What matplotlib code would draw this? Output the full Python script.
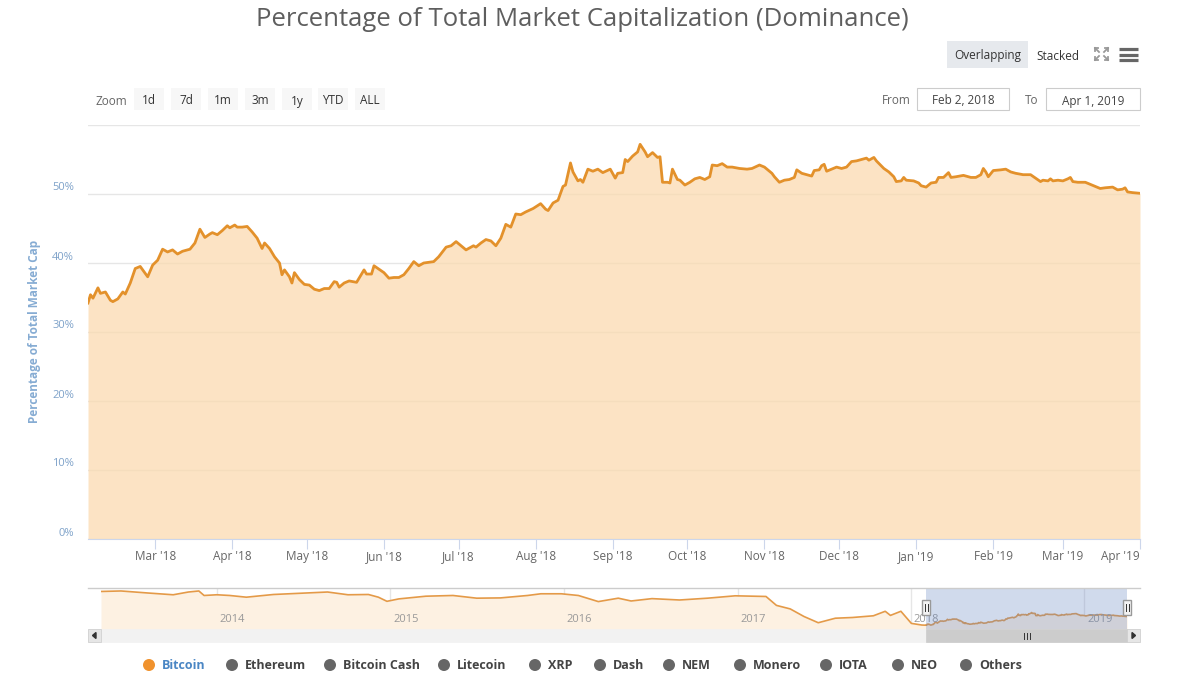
import numpy as np
import pandas as pd
import matplotlib
matplotlib.use('Agg')
import matplotlib.pyplot as plt
import matplotlib.dates as mdates
from matplotlib.patches import Rectangle, Circle, Polygon
from matplotlib.transforms import offset_copy

plt.rcParams['font.family'] = ['Open Sans', 'DejaVu Sans']

# Bitcoin dominance (%), days after Feb 2, 2018
btc_days = [0, 1, 2, 4, 5, 7, 9, 10, 12, 14, 15, 17, 19, 21, 24, 26, 28, 30, 32, 34,
            36, 38, 41, 43, 45, 47, 49, 50, 52, 54, 56, 57, 59, 60, 62, 64, 66, 68, 70, 71,
            73, 75, 77, 78, 79, 81, 82, 83, 85, 87, 89, 91, 93, 95, 97, 99, 100, 101, 103, 105,
            108, 111, 112, 114, 115, 117, 119, 121, 123, 125, 127, 129, 131, 133, 135, 137, 139, 141, 144, 146,
            148, 150, 152, 155, 156, 158,
            160, 162, 164, 166, 168, 170, 172, 174, 176, 179, 182, 184, 185, 187, 189, 191, 192, 194, 195, 197,
            198, 199, 201, 203, 205, 207, 210, 212, 213, 215, 216, 217, 219, 221, 222, 224, 225, 227, 229, 230,
            231, 233, 234, 235, 237, 238, 240, 242, 244, 246, 248, 250, 251, 253, 255, 257, 259, 262, 265, 267,
            270, 272, 275, 276, 278, 280, 282, 284, 285, 287, 289, 291, 292, 294, 295, 296, 297, 299, 301, 303,
            305, 307, 309, 311, 313, 314, 316, 317,
            320, 322, 324, 325, 327, 328, 329, 332, 334, 335, 337, 339, 341, 342, 344, 346, 347, 349, 352, 355,
            357, 359, 360, 361, 362, 364, 367, 369, 371, 373, 376, 379, 381, 383, 384, 386, 387, 388, 390, 392,
            394, 395, 396, 398, 401, 403, 405, 407, 409, 412, 414, 416, 417, 418, 420, 423]
btc_dom = [34.2, 35.4, 34.9, 36.4, 35.6, 35.8, 34.6, 34.4, 34.8, 35.8, 35.5, 37.1, 39.2, 39.5, 38.0, 39.7, 40.4, 42.0, 41.6, 41.9,
           41.3, 41.7, 42.0, 42.9, 44.9, 43.7, 44.2, 44.4, 44.1, 44.7, 45.4, 45.1, 45.5, 45.2, 45.2, 45.3, 44.5, 43.6, 42.1, 42.9,
           42.1, 40.9, 40.0, 38.3, 39.0, 38.0, 37.1, 38.6, 37.6, 36.9, 36.8, 36.2, 36.0, 36.3, 36.3, 37.3, 37.2, 36.5, 37.1, 37.4,
           37.2, 39.0, 38.4, 38.4, 39.6, 39.1, 38.6, 37.8, 37.9, 37.9, 38.3, 39.2, 40.2, 39.6, 40.0, 40.1, 40.2, 40.9, 42.3, 42.5,
           43.1, 42.5, 41.9, 42.5, 42.3, 42.9,
           43.4, 43.2, 42.5, 43.6, 45.6, 45.2, 47.1, 47.0, 47.4, 47.9, 48.6, 47.8, 47.6, 48.7, 49.1, 51.1, 51.3, 54.5, 53.2, 51.9,
           52.1, 51.7, 53.6, 53.3, 53.6, 53.1, 53.6, 52.3, 53.0, 53.1, 55.0, 54.7, 55.5, 56.1, 57.2, 56.1, 55.4, 56.0, 55.3, 55.4,
           51.7, 51.7, 51.6, 53.6, 52.1, 52.0, 51.3, 51.7, 52.2, 52.4, 52.1, 52.5, 54.2, 54.1, 54.4, 53.9, 53.9, 53.7, 53.6, 53.7,
           54.2, 53.9, 53.0, 52.5, 51.7, 52.0, 52.1, 52.4, 53.5, 53.0, 52.8, 52.6, 53.4, 53.5, 54.1, 54.3, 53.3, 53.6, 53.9, 53.7,
           53.9, 54.7, 54.8, 55.0, 55.2, 54.9, 55.3, 54.8,
           53.7, 53.2, 52.5, 51.8, 51.9, 52.4, 52.0, 51.9, 51.6, 51.2, 51.0, 51.6, 51.7, 52.4, 52.4, 53.1, 52.4, 52.5, 52.7, 52.4,
           52.4, 52.8, 53.7, 53.2, 52.5, 53.4, 53.5, 53.6, 53.2, 53.0, 52.8, 52.8, 52.3, 51.8, 52.0, 51.9, 52.2, 51.9, 52.0, 51.9,
           52.2, 52.4, 51.8, 51.7, 51.7, 51.4, 51.1, 50.8, 50.9, 51.0, 50.6, 50.7, 50.9, 50.3, 50.2, 50.1]

# navigator history before the selected range, days after Jan 1, 2014
hist_days = [-244, -202, -145, -92, -60, -38, -27, 0, 27, 62, 119, 190, 233, 276, 319, 340, 358, 383, 440, 497,
             547, 597, 654, 682, 725, 761, 803, 845, 872, 916, 974, 1033, 1091, 1156, 1178, 1207, 1236, 1266, 1302, 1338,
             1382, 1407, 1418, 1440, 1462, 1484]
hist_dom = [95.5, 96.4, 92.7, 89.5, 94.5, 96.4, 88.2, 89.5, 88.2, 85.1, 90.0, 92.7, 94.5, 89.5, 90.0, 85.1, 77.6, 82.0, 86.9, 88.2,
            83.3, 83.8, 88.2, 91.3, 91.3, 88.2, 77.1, 83.3, 78.2, 82.5, 80.0, 83.3, 87.6, 86.4, 70.2, 63.8, 50.0, 38.7, 46.9, 48.2,
            51.3, 59.5, 52.0, 59.5, 37.5, 34.5]

date_from = pd.Timestamp('2018-02-02')
date_to = pd.Timestamp('2019-04-01')
month_ticks = pd.date_range('2018-03-01', '2019-04-01', freq='MS')
year_ticks = pd.date_range('2014-01-01', '2019-01-01', freq='YS')
y_ticks = [0, 10, 20, 30, 40, 50]
zoom_buttons = ['1d', '7d', '1m', '3m', '1y', 'YTD', 'ALL']
legend_names = ['Bitcoin', 'Ethereum', 'Bitcoin Cash', 'Litecoin', 'XRP', 'Dash',
                'NEM', 'Monero', 'IOTA', 'NEO', 'Others']

btc_dates = date_from + pd.to_timedelta(btc_days, unit='D')
hist_dates = pd.Timestamp('2014-01-01') + pd.to_timedelta(hist_days, unit='D')
nav_dates = np.concatenate([hist_dates.to_numpy(), btc_dates.to_numpy()])
nav_dom = hist_dom + btc_dom

W, H = 1186, 677
fig = plt.figure(figsize=(W / 100, H / 100), dpi=100)


def box(x0, y0, x1, y1):
    return [x0 / W, 1 - y1 / H, (x1 - x0) / W, (y1 - y0) / H]


# ---- main chart
ax = fig.add_axes(box(88, 125, 1140, 539))
ax.fill_between(btc_dates, btc_dom, 0, color='#fbdab0', alpha=0.75, lw=0, zorder=2)
ax.plot(btc_dates, btc_dom, color='#e3912b', lw=2, zorder=3, solid_joinstyle='round')
ax.set_xlim(date_from, date_to)
ax.set_ylim(0, 60)
ax.set_yticks(range(0, 61, 10))
ax.yaxis.grid(True, color='#e6e6e6', lw=1)
ax.set_axisbelow(True)
ax.tick_params(axis='y', length=0, labelleft=False)
for s in ['left', 'right', 'top']:
    ax.spines[s].set_visible(False)
ax.spines['bottom'].set_color('#ccd6eb')
ax.set_xticks(month_ticks)
ax.xaxis.set_major_formatter(mdates.DateFormatter("%b '%y"))
ax.tick_params(axis='x', length=7, color='#ccd6eb', labelsize=8.5, labelcolor='#666666', pad=1)
xl = ax.get_xticklabels()
xl[-1].set_horizontalalignment('right')

ytr = offset_copy(ax.get_yaxis_transform(), fig=fig, x=-14, y=6, units='dots')
for v in y_ticks:
    ax.text(0, v, f'{v}%', transform=ytr, ha='right', va='center', fontsize=8, color='#7ea2c9')

fig.text(35 / W, 1 - 331 / H, 'Percentage of Total Market Cap', rotation=90, ha='center', va='center',
         fontsize=8.5, fontweight='bold', color='#86acd3')
fig.text(582 / W, 1 - 19 / H, 'Percentage of Total Market Capitalization (Dominance)',
         ha='center', va='center', fontsize=18.5, color='#5e5e5e')

# ---- navigator
nav = fig.add_axes(box(101, 588, 1127, 629))
nav.fill_between(nav_dates, nav_dom, 0, color='#fdf1e2', lw=0, zorder=1)
nav.plot(nav_dates, nav_dom, color='#e49a48', lw=1.2, zorder=2)
nav.set_xlim(hist_dates[0], date_to)
nav.set_ylim(27.3, 101.8)
nav.set_xticks(year_ticks)
nav.xaxis.grid(True, color='#e6e6e6', lw=1)
nav.set_axisbelow(True)
nav.tick_params(length=0, labelbottom=False, labelleft=False)
for s in nav.spines.values():
    s.set_visible(False)
ntr = offset_copy(nav.get_xaxis_transform(), fig=fig, x=3, y=4, units='dots')
for d in year_ticks:
    nav.text(d, 0, d.strftime('%Y'), transform=ntr, ha='left', va='bottom', fontsize=8, color='#999999', zorder=3)
nav.axvspan(date_from, date_to, color=(102 / 255, 133 / 255, 194 / 255), alpha=0.3, lw=0, zorder=4)

# ---- interface elements in pixel coordinates
ui = fig.add_axes([0, 0, 1, 1])
ui.set_xlim(0, W)
ui.set_ylim(H, 0)
ui.set_axis_off()

ui.plot([88, 1140], [588, 588], color='#cccccc', lw=1)

# navigator handles
x_lo = nav.transData.transform((mdates.date2num(date_from), 0))[0]
x_hi = nav.transData.transform((mdates.date2num(date_to), 0))[0]
for xp in (x_lo, x_hi):
    ui.add_patch(Rectangle((xp - 4, 600), 8, 15, facecolor='#f2f2f2', edgecolor='#999999', lw=1, zorder=5))
    for dx in (-1.5, 1.5):
        ui.plot([xp + dx, xp + dx], [604, 611], color='#333333', lw=0.7, zorder=6)

# scrollbar
ui.add_patch(Rectangle((88, 629), 1052, 13, facecolor='#f2f2f2', edgecolor='#f2f2f2', lw=0.5))
ui.add_patch(Rectangle((x_lo, 629), x_hi - x_lo, 13, facecolor='#cccccc', edgecolor='#cccccc', lw=0.5))
ui.add_patch(Rectangle((88, 629), 13, 13, facecolor='#e6e6e6', edgecolor='#cccccc', lw=0.5))
ui.add_patch(Rectangle((1127, 629), 13, 13, facecolor='#e6e6e6', edgecolor='#cccccc', lw=0.5))
ui.add_patch(Polygon([[96, 632.5], [96, 638.5], [92.5, 635.5]], closed=True, color='#333333'))
ui.add_patch(Polygon([[1132, 632.5], [1132, 638.5], [1135.5, 635.5]], closed=True, color='#333333'))
xm = (x_lo + x_hi) / 2
for dx in (-3, 0, 3):
    ui.plot([xm + dx, xm + dx], [632.5, 638.5], color='#333333', lw=0.7)

# range selector
ui.text(95, 100, 'Zoom', ha='left', va='center_baseline', fontsize=8.5, color='#666666')
zx = [134, 171, 208, 245, 282, 318, 355]
for x0, lab in zip(zx, zoom_buttons):
    ui.add_patch(Rectangle((x0, 88), 30, 22, facecolor='#f7f7f7', edgecolor='none'))
    ui.text(x0 + 15, 99.5, lab, ha='center', va='center_baseline', fontsize=8.5, color='#333333')

ui.text(911, 99.5, 'From', ha='right', va='center_baseline', fontsize=8.5, color='#666666')
ui.add_patch(Rectangle((917, 88), 92, 22, facecolor='white', edgecolor='#cccccc', lw=0.8))
ui.text(963, 99.5, date_from.strftime('%b %-d, %Y'), ha='center', va='center_baseline', fontsize=8.5, color='#444444')
ui.text(1038, 99.5, 'To', ha='right', va='center_baseline', fontsize=8.5, color='#666666')
ui.add_patch(Rectangle((1046, 88), 94, 22, facecolor='white', edgecolor='#cccccc', lw=0.8))
ui.text(1093, 99.5, date_to.strftime('%b %-d, %Y'), ha='center', va='center_baseline', fontsize=8.5, color='#444444')

# overlapping / stacked buttons and icons
ui.add_patch(Rectangle((947, 41), 81, 27, facecolor='#e6e9ed', edgecolor='none'))
ui.text(987.5, 54.5, 'Overlapping', ha='center', va='center_baseline', fontsize=8.5, color='#333333')
ui.text(1058, 54.5, 'Stacked', ha='center', va='center_baseline', fontsize=8.5, color='#333333')
for cx, cy, sx, sy in [(1095, 48, 1, 1), (1108, 48, -1, 1), (1095, 60, 1, -1), (1108, 60, -1, -1)]:
    ui.plot([cx, cx + 4 * sx], [cy, cy + 4 * sy], color='#999999', lw=1.3)
    ui.plot([cx, cx + 3 * sx], [cy, cy], color='#999999', lw=1.3)
    ui.plot([cx, cx], [cy, cy + 3 * sy], color='#999999', lw=1.3)
for yy in (49, 54.5, 60):
    ui.plot([1119, 1138], [yy, yy], color='#666666', lw=2.3, solid_capstyle='butt')

# legend
lx = [149, 232, 330, 444, 535, 600, 669, 740, 826, 898, 966]
for i, (cx, name) in enumerate(zip(lx, legend_names)):
    ui.add_patch(Circle((cx, 665), 6, facecolor='#f0922d' if i == 0 else '#666666', edgecolor='none'))
    ui.text(cx + 13, 665.5, name, ha='left', va='center', fontsize=9, fontweight='bold',
            color='#4a86c4' if i == 0 else '#444444')

fig.savefig('out.png', dpi=100)
